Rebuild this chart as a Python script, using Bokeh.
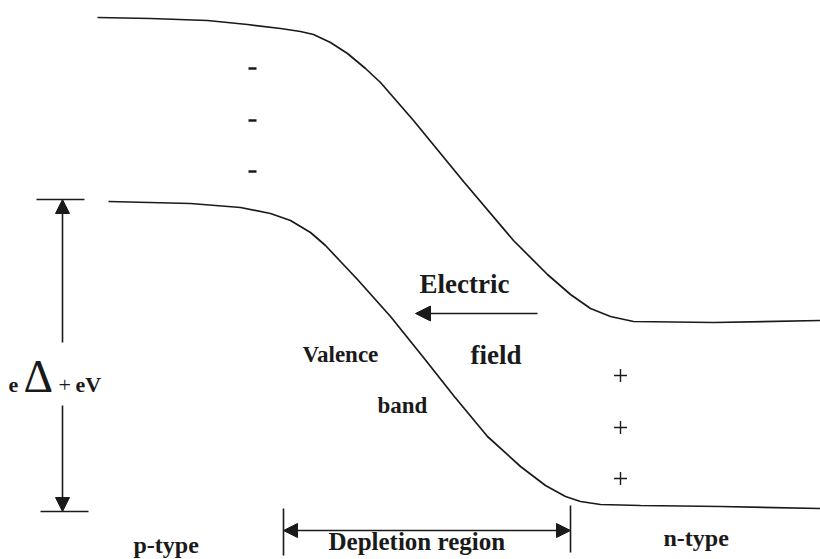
from bokeh.plotting import figure
from bokeh.models import Range1d, Arrow, NormalHead
from bokeh.core.properties import value
from bokeh.embed import file_html
from bokeh.resources import INLINE

# Conduction band edge (upper curve) (pixel-like units)
cb_x = [97, 150, 207, 247, 280, 300, 313, 330, 347, 365, 380, 413, 463, 513, 547, 570, 590, 610, 633, 713, 820]
cb_y = [17, 18, 20, 24, 28, 31, 34, 42, 53, 68, 82, 120, 181, 240, 274, 294, 308, 316, 321, 322, 320]

# Valence band edge (lower curve)
vb_x = [108, 190, 240, 270, 290, 310, 325, 340, 357, 390, 423, 453, 487, 520, 545, 565, 580, 600, 640, 720, 820]
vb_y = [201, 203, 207, 213, 220, 232, 245, 261, 279, 316, 357, 395, 436, 466, 485, 496, 501, 504, 505, 506, 508]

# Space charges
minus_x = [252, 252, 252]
minus_y = [68, 120, 171]
plus_x = [620, 620, 620]
plus_y = [375, 427, 478]

# Labels (x = left edge, y = baseline)
bold_labels = ["Electric", "field", "Valence", "band", "Depletion  region", "p-type", "n-type", "e", "eV"]
bold_x = [419, 470, 302, 377, 328, 133, 663, 8, 75]
bold_y = [293, 364, 362, 413, 550, 553, 546, 392, 392]
bold_size = [27, 27, 23, 23, 25, 24, 24, 22, 22]

# Energy gap dimension
gap_x = 62
gap_top = 199
gap_bottom = 511
gap_text_top = 342
gap_text_bottom = 405

# Depletion region extent
dep_left = 283
dep_right = 570
dep_y = 530

# Electric field arrow
field_start = 537
field_end = 415
field_y = 313

INK = "#1a1a1a"
FONT = value("Liberation Serif")
BASE_SHIFT = 0.35  # renderer places the alphabetic baseline this many em lower

p = figure(width=820, height=559, output_backend="svg", toolbar_location=None,
           x_range=Range1d(0, 820), y_range=Range1d(559, 0), min_border=0)
p.axis.visible = False
p.grid.visible = False
p.outline_line_color = None
p.background_fill_color = "white"
p.border_fill_color = "white"

# Band curves
p.line(cb_x, cb_y, line_color=INK, line_width=1.7)
p.line(vb_x, vb_y, line_color=INK, line_width=1.7)

# Charges
p.scatter(minus_x, minus_y, marker="dash", size=8, line_width=2.5, line_color=INK)
p.scatter(plus_x, plus_y, marker="cross", size=13, line_width=1.4, line_color=INK)

# Gap dimension: ticks and arrows
p.segment(x0=[36, 40], y0=[gap_top, gap_bottom], x1=[84, 88], y1=[gap_top, gap_bottom],
          line_color=INK, line_width=1.6)
p.add_layout(Arrow(x_start=gap_x, y_start=gap_text_top, x_end=gap_x, y_end=gap_top,
                   line_color=INK, line_width=1.6,
                   end=NormalHead(size=14, fill_color=INK, line_color=INK)))
p.add_layout(Arrow(x_start=gap_x, y_start=gap_text_bottom, x_end=gap_x, y_end=gap_bottom,
                   line_color=INK, line_width=1.6,
                   end=NormalHead(size=14, fill_color=INK, line_color=INK)))

# Depletion region double arrow and bars
p.segment(x0=[dep_left, dep_right], y0=[508, 505], x1=[dep_left, dep_right], y1=[555, 552],
          line_color=INK, line_width=1.6)
p.add_layout(Arrow(x_start=dep_left, y_start=dep_y, x_end=dep_right, y_end=dep_y,
                   line_color=INK, line_width=1.6,
                   start=NormalHead(size=14, fill_color=INK, line_color=INK),
                   end=NormalHead(size=14, fill_color=INK, line_color=INK)))

# Electric field arrow
p.add_layout(Arrow(x_start=field_start, y_start=field_y, x_end=field_end, y_end=field_y,
                   line_color=INK, line_width=1.6,
                   end=NormalHead(size=15, fill_color=INK, line_color=INK)))

# Texts
for t, x, y, s in zip(bold_labels, bold_x, bold_y, bold_size):
    p.text(x=[x], y=[y - BASE_SHIFT * s], text=[t], text_font=FONT, text_font_style="bold",
           text_font_size=f"{s}px", text_color=INK, text_align="left",
           text_baseline="alphabetic")

p.text(x=[23], y=[392 - BASE_SHIFT * 46], text=["Δ"], text_font=FONT, text_font_size="46px",
       text_color=INK, text_align="left", text_baseline="alphabetic")
p.text(x=[58], y=[392 - BASE_SHIFT * 22], text=["+"], text_font=FONT, text_font_size="22px",
       text_color=INK, text_align="left", text_baseline="alphabetic")

open("out.html", "w").write(file_html(p, INLINE))
